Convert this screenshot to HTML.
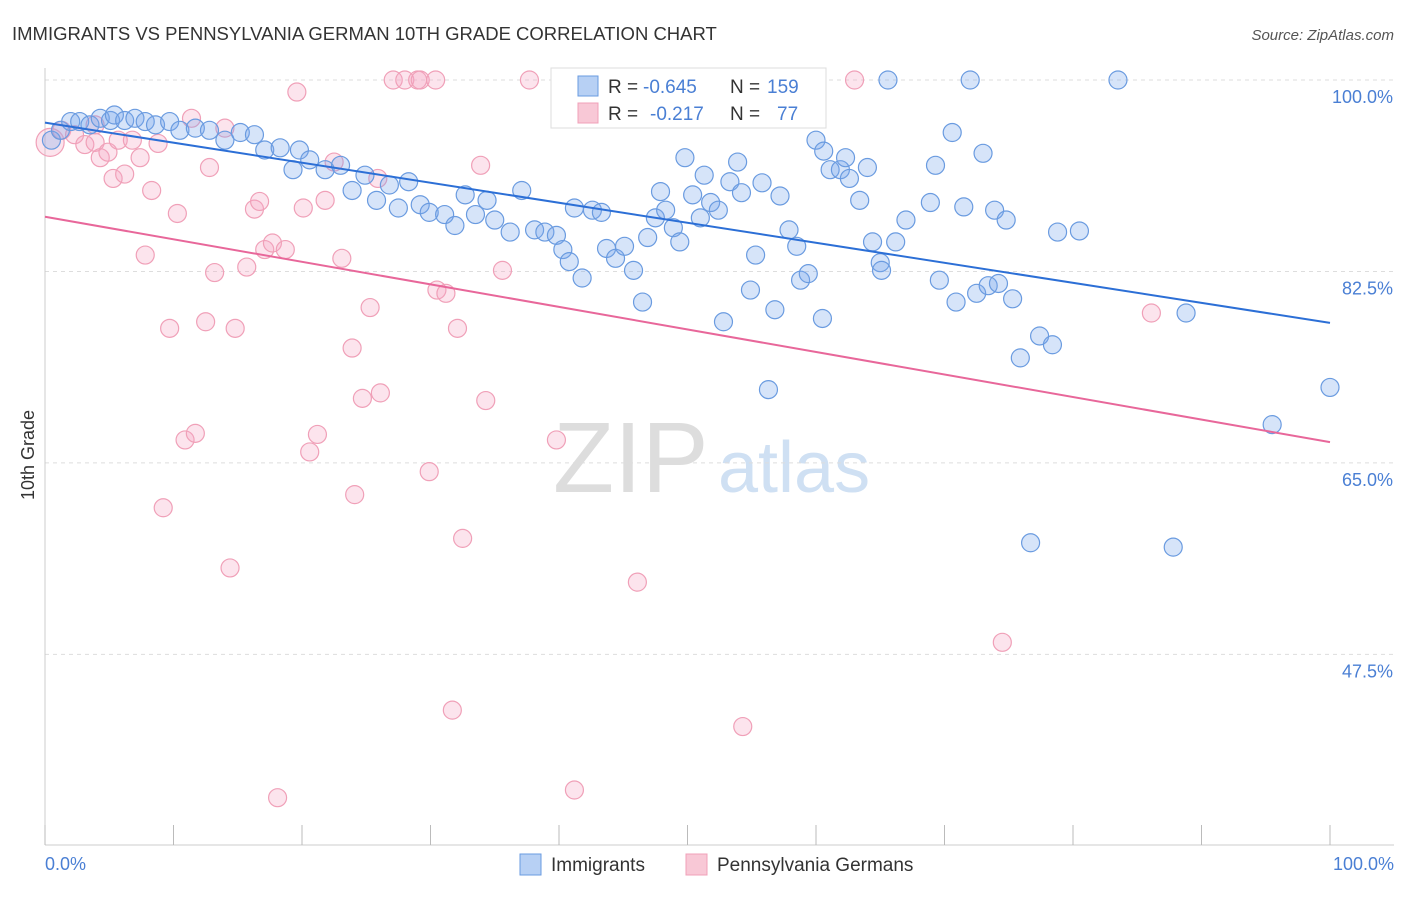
<!DOCTYPE html>
<html><head><meta charset="utf-8"><style>
body{margin:0;background:#fff;font-family:"Liberation Sans",sans-serif}
svg text{font-family:"Liberation Sans",sans-serif}
</style></head><body>
<svg id="chart" width="1406" height="892">
<text x="12" y="40" font-size="18.5" fill="#333">IMMIGRANTS VS PENNSYLVANIA GERMAN 10TH GRADE CORRELATION CHART</text>
<text x="1394" y="40" font-size="15" fill="#555" font-style="italic" text-anchor="end">Source: ZipAtlas.com</text>
<text x="553" y="492" font-size="100" fill="#ddd" font-family="Liberation Serif">ZIP</text>
<text x="718" y="492" font-size="72" fill="#cfe0f3">atlas</text>
<g id="grid"></g><g id="axes"></g><g id="pink"></g><g id="blue"></g><g id="lines"></g>
<text transform="translate(34,455) rotate(-90)" font-size="18" fill="#333" text-anchor="middle">10th Grade</text>
<text x="45" y="870" font-size="18" fill="#4a7fd4">0.0%</text>
<text x="1394" y="870" font-size="18" fill="#4a7fd4" text-anchor="end">100.0%</text>
<g>
<rect x="551" y="68" width="275" height="60" fill="#fff" stroke="#ddd"/>
<rect x="578" y="76" width="20" height="20" fill="#b7d0f4" stroke="#6a9be0"/>
<rect x="578" y="103" width="20" height="20" fill="#f8c8d6" stroke="#f0a0b8"/>
<text x="608" y="93" font-size="19" fill="#333">R =</text>
<text x="643" y="93" font-size="19" fill="#4a7fd4">-0.645</text>
<text x="730" y="93" font-size="19" fill="#333">N =</text>
<text x="767" y="93" font-size="19" fill="#4a7fd4">159</text>
<text x="608" y="120" font-size="19" fill="#333">R =</text>
<text x="650" y="120" font-size="19" fill="#4a7fd4">-0.217</text>
<text x="730" y="120" font-size="19" fill="#333">N =</text>
<text x="777" y="120" font-size="19" fill="#4a7fd4">77</text>
</g>
<g>
<rect x="520" y="854" width="21" height="21" fill="#b7d0f4" stroke="#6a9be0"/>
<text x="551" y="871" font-size="19" fill="#333">Immigrants</text>
<rect x="686" y="854" width="21" height="21" fill="#f8c8d6" stroke="#f0a0b8"/>
<text x="717" y="871" font-size="19" fill="#333">Pennsylvania Germans</text>
</g>
</svg>
<script>
const yTicks=[100,82.5,65,47.5];
const yTickLabels=["100.0%","82.5%","65.0%","47.5%"];
const xTicks=[0,10,20,30,40,50,60,70,80,90,100];
const blueX=[0.5,1.2,2.0,2.7,3.5,4.3,5.1,5.4,6.2,7.0,7.8,8.6,9.7,10.5,11.7,12.8,14.0,15.2,16.3,17.1,18.3,19.3,19.8,20.6,21.8,23.0,23.9,24.9,25.8,26.8,27.5,28.3,29.2,29.9,31.1,31.9,32.7,33.5,34.4,35.0,36.2,37.1,38.1,38.9,39.8,40.3,40.8,41.8,41.2,42.6,43.3,43.7,44.4,45.1,45.8,46.5,46.9,47.5,47.9,48.3,48.9,49.4,49.8,50.4,51.0,51.3,51.8,52.4,52.8,53.3,53.9,54.2,54.9,55.3,55.8,56.3,56.8,57.2,57.9,58.5,58.8,59.4,60.0,60.5,60.6,61.1,61.9,62.3,62.6,63.4,64.0,64.4,65.0,65.1,65.6,66.2,67.0,68.9,69.3,69.6,70.6,70.9,71.5,72.0,72.5,73.0,73.4,73.9,74.2,74.8,75.3,75.9,76.7,77.4,78.4,78.8,80.5,83.5,87.8,88.8,95.5,100];
const blueY=[94.5,95.4,96.2,96.2,95.9,96.5,96.3,96.8,96.3,96.5,96.2,95.9,96.2,95.4,95.6,95.4,94.5,95.2,95.0,93.6,93.8,91.8,93.6,92.7,91.8,92.2,89.9,91.3,89.0,90.4,88.3,90.7,88.6,87.9,87.7,86.7,89.5,87.7,89.0,87.2,86.1,89.9,86.3,86.1,85.8,84.5,83.4,81.9,88.3,88.1,87.9,84.6,83.7,84.8,82.6,79.7,85.6,87.4,89.8,88.1,86.5,85.2,92.9,89.5,87.4,91.3,88.8,88.1,77.9,90.7,92.5,89.7,80.8,84.0,90.6,71.7,79.0,89.4,86.3,84.8,81.7,82.3,94.5,78.2,93.5,91.8,91.8,92.9,91.0,89.0,92.0,85.2,83.3,82.6,100,85.2,87.2,88.8,92.2,81.7,95.2,79.7,88.4,100,80.5,93.3,81.2,88.1,81.4,87.2,80.0,74.6,57.7,76.6,75.8,86.1,86.2,100,57.3,78.7,68.5,71.9];
const pinkX=[0.4,1.3,2.3,3.1,3.9,4.3,4.9,5.3,5.7,6.2,6.8,7.4,7.8,8.3,8.8,9.2,9.7,10.3,10.9,11.4,11.7,12.5,12.8,13.2,14.0,14.4,14.8,15.7,16.3,16.7,17.1,17.7,18.1,18.7,19.6,20.1,20.6,21.2,21.8,22.5,23.1,23.9,24.1,24.7,25.3,25.9,26.1,27.1,28.0,29.0,29.2,29.9,30.4,30.5,31.2,31.7,32.1,32.5,33.9,34.3,35.6,37.7,39.8,41.2,46.1,46.7,54.3,58.5,63.0,74.5,86.1,3.9];
const pinkY=[94.3,95.4,95.0,94.1,94.3,92.9,93.4,91.0,94.5,91.4,94.5,92.9,84.0,89.9,94.2,60.9,77.3,87.8,67.1,96.5,67.7,77.9,92.0,82.4,95.6,55.4,77.3,82.9,88.2,88.9,84.5,85.1,34.4,84.5,98.9,88.3,66.0,67.6,89.0,92.5,83.7,75.5,62.1,70.9,79.2,91.0,71.4,100,100,100,100,64.2,100,80.8,80.5,42.4,77.3,58.1,92.2,70.7,82.6,100,67.1,35.1,54.1,100,40.9,100,100,48.6,78.7,95.9];
const blueTrend=[96.1,77.8];
const pinkTrend=[87.5,66.9];
const NS="http://www.w3.org/2000/svg";
const X0=45,X1=1330,Y100=80,PPU=10.94;
function sx(v){return X0+(X1-X0)*v/100;}
function sy(v){return Y100+(100-v)*PPU;}
function mk(tag,attrs,parent){const e=document.createElementNS(NS,tag);for(const k in attrs)e.setAttribute(k,attrs[k]);document.getElementById(parent).appendChild(e);return e;}
yTicks.forEach((t,i)=>{
  const l=mk('line',{x1:X0,x2:1394,y1:sy(t),y2:sy(t),stroke:'#ddd','stroke-dasharray':'4,4'},'grid');
  
  
  const tx=mk('text',{x:1393,y:sy(t)+23,'font-size':18,fill:'#4a7fd4','text-anchor':'end'},'grid');
  tx.textContent=yTickLabels[i];
  
  
});
let ax=mk('line',{x1:X0,x2:X0,y1:68,y2:845,stroke:'#ccc'},'axes');


ax=mk('line',{x1:X0,x2:1394,y1:845,y2:845,stroke:'#ccc'},'axes');


xTicks.forEach(t=>{
  const l=mk('line',{x1:sx(t),x2:sx(t),y1:825,y2:845,stroke:'#bbb'},'axes');
  
  
});
pinkX.forEach((x,i)=>{
  const c=mk('circle',{cx:sx(x),cy:sy(pinkY[i]),r:i==0?14:9,fill:'rgba(245,165,195,0.3)',stroke:'#f0a0b8','stroke-width':1.2},'pink');
  
  
});
blueX.forEach((x,i)=>{
  const c=mk('circle',{cx:sx(x),cy:sy(blueY[i]),r:9,fill:'rgba(120,165,235,0.3)',stroke:'#6a9be0','stroke-width':1.2},'blue');
  
  
});
let tl=mk('line',{x1:sx(0),x2:sx(100),y1:sy(blueTrend[0]),y2:sy(blueTrend[1]),stroke:'#2c6fd6','stroke-width':2},'lines');


tl=mk('line',{x1:sx(0),x2:sx(100),y1:sy(pinkTrend[0]),y2:sy(pinkTrend[1]),stroke:'#e8679a','stroke-width':2},'lines');


</script>
</body></html>
